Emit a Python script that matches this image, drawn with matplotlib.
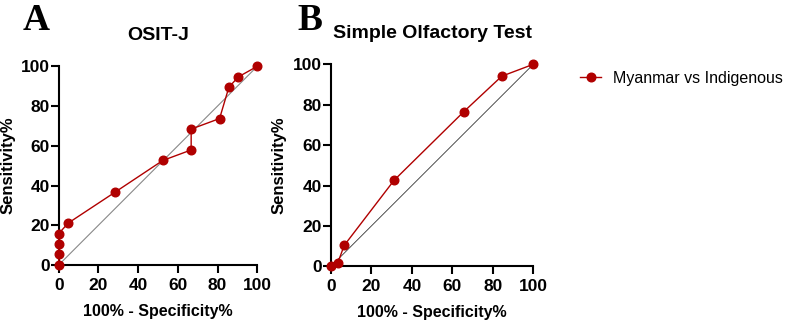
import matplotlib.pyplot as plt

plt.rcParams["font.family"] = ["Liberation Sans", "DejaVu Sans"]

# Panel A: OSIT-J ROC points (100% - specificity, sensitivity)
osit_fpr = [0, 0, 0, 0, 4.8, 28.6, 52.4, 66.7, 66.7, 81.0, 85.7, 90.5, 100]
osit_sens = [0, 5.3, 10.5, 15.8, 21.1, 36.8, 52.6, 57.9, 68.4, 73.7, 89.5, 94.7, 100]

# Panel B: Simple Olfactory Test ROC points
sot_fpr = [0, 3.3, 6.5, 31.2, 65.6, 84.4, 100]
sot_sens = [0, 1.5, 10.3, 42.6, 76.5, 94.1, 100]

ticks = [0, 20, 40, 60, 80, 100]
red = "#b00000"
W, H = 789, 322

fig = plt.figure(figsize=(W / 100, H / 100), dpi=100)


def px_axes(x0, x1, y_top, y_bot):
    return fig.add_axes([x0 / W, 1 - y_bot / H, (x1 - x0) / W, (y_bot - y_top) / H])


ax1 = px_axes(58.7, 257.3, 66.3, 265)
ax2 = px_axes(331, 533.3, 64.3, 266.3)

panels = [
    (ax1, osit_fpr, osit_sens, "OSIT-J", "#888888", 0.8, -0.215),
    (ax2, sot_fpr, sot_sens, "Simple Olfactory Test", "#333333", 0.6, -0.222),
]

for ax, fx, sy, title, diag_col, diag_lw, ylab_x in panels:
    ax.plot([0, 100], [0, 100], color=diag_col, lw=diag_lw, zorder=1)
    ax.plot(fx, sy, color=red, lw=1.0, marker="o", ms=6.2, clip_on=False, zorder=3,
            label="Myanmar vs Indigenous")
    ax.set_xlim(0, 100)
    ax.set_ylim(0, 100)
    ax.set_xticks(ticks)
    ax.set_yticks(ticks)
    for s in ["top", "right"]:
        ax.spines[s].set_visible(False)
    for s in ["left", "bottom"]:
        ax.spines[s].set_linewidth(1.5)
    ax.tick_params(width=1.5, length=5.5, labelsize=12.5)
    ax.tick_params(axis="x", pad=3.5)
    ax.tick_params(axis="y", pad=1)
    for lab in ax.get_xticklabels() + ax.get_yticklabels():
        lab.set_fontweight("bold")
    ax.set_xlabel("100% - Specificity%", fontsize=11.5, fontweight="bold", labelpad=8)
    ax.set_ylabel("Sensitivity%", fontsize=12, fontweight="bold")
    ax.yaxis.set_label_coords(ylab_x, 0.5)
    ax.set_title(title, fontsize=14, fontweight="bold", pad=19)

fig.text(23 / W, 1 - 21 / H, "A", fontsize=27, fontweight="bold", family="Liberation Serif",
         va="center", ha="left")
fig.text(297 / W, 1 - 20 / H, "B", fontsize=27, fontweight="bold", family="Liberation Serif",
         va="center", ha="left")

handles, labels = ax2.get_legend_handles_labels()
fig.legend(handles, labels, loc="center left", bbox_to_anchor=(566 / W, 1 - 78 / H),
           frameon=False, fontsize=11.5, handlelength=1.3, handletextpad=0.75)

fig.savefig("out.png", dpi=100)
